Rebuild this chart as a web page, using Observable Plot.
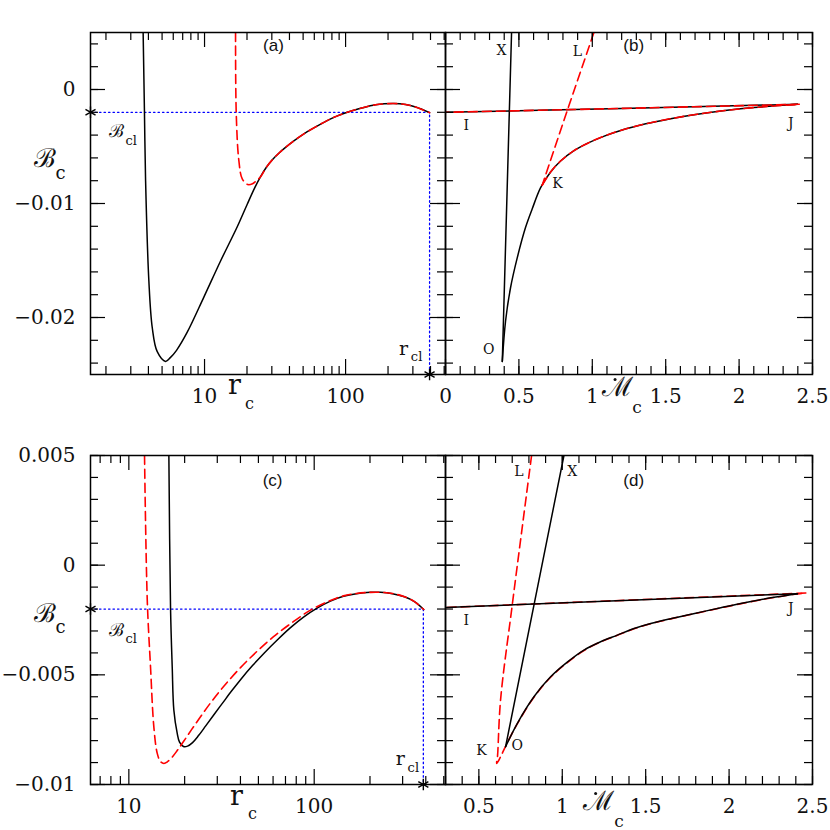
<!DOCTYPE html>
<html><head><meta charset="utf-8">
<script src="https://cdn.jsdelivr.net/npm/d3@7"></script>
<script src="https://cdn.jsdelivr.net/npm/@observablehq/plot@0.6"></script>
<style>
body{margin:0;background:#fff;}
#wrap{position:relative;width:830px;height:830px;background:#fff;overflow:hidden}
#wrap > div{position:absolute}
</style></head><body><div id="wrap"></div>
<script>
// ---------------- DATA ----------------
// Panel (a): B_c vs r_c (log)
const aDomainR = [1.554, 511];
const aDomainB = [-0.025, 0.005];
const aBlackR = [3.67, 3.75, 3.82, 4.03, 4.26, 4.62, 5.29, 5.74, 6.33, 7.54, 9.89, 12.99, 17.06, 20.08, 22.63, 24.96, 27.53, 30.37, 33.77, 37.54, 42.99, 50.62, 59.61, 70.19, 82.6, 102.8, 127.8, 163.2, 220.1, 266.4, 313.7, 394.2];
const aBlackB = [0.005, -0.002, -0.008, -0.0168, -0.0209, -0.0230, -0.02385, -0.0235, -0.02288, -0.02129, -0.01821, -0.01504, -0.01204, -0.01006, -0.00865, -0.00764, -0.0068, -0.00614, -0.00557, -0.00508, -0.00451, -0.00389, -0.00337, -0.00288, -0.00244, -0.002, -0.00165, -0.00134, -0.00123, -0.00132, -0.00154, -0.00203];
const aRedR = [16.59, 16.78, 17.51, 18.51, 20.28, 21.9, 23.37, 24.96, 27.53, 30.37, 33.77, 37.54, 42.99, 50.62, 59.61, 70.19, 82.6, 102.8, 127.8, 163.2, 220.1, 266.4, 313.7, 394.2];
const aRedB = [0.005, -0.00211, -0.00623, -0.00784, -0.00834, -0.00826, -0.00799, -0.00766, -0.0068, -0.00614, -0.00557, -0.00508, -0.00451, -0.00389, -0.00337, -0.00288, -0.00244, -0.002, -0.00165, -0.00134, -0.00123, -0.00132, -0.00154, -0.00203];
const aRcl = 394;
const aBcl = -0.002;

// Panel (b): B_c vs Mdot_c
const bDomainM = [0, 2.5];
const bXoM = [0.45, 0.387];
const bXoB = [0.005, -0.02385];
const bOjM = [0.387, 0.409, 0.443, 0.489, 0.545, 0.591, 0.648, 0.716, 0.784, 0.873, 0.966, 1.077, 1.193, 1.364, 1.534, 1.704, 1.875, 2.102, 2.398];
const bOjB = [-0.02385, -0.02033, -0.01739, -0.01475, -0.01211, -0.01046, -0.00861, -0.00724, -0.00627, -0.00539, -0.00473, -0.00411, -0.00359, -0.00301, -0.00256, -0.00219, -0.00189, -0.00158, -0.0013];
const bJiM = [2.398, 1.2, 0];
const bJiB = [-0.0013, -0.00166, -0.002];
const bRedLkM = [1.011, 0.83, 0.659];
const bRedLkB = [0.005, -0.00182, -0.00839];
const bRedKjM = [0.659, 0.716, 0.784, 0.873, 0.966, 1.077, 1.193, 1.364, 1.534, 1.704, 1.875, 2.102, 2.41];
const bRedKjB = [-0.00839, -0.00724, -0.00627, -0.00539, -0.00473, -0.00411, -0.00359, -0.00301, -0.00256, -0.00219, -0.00189, -0.00158, -0.0013];
const bRedJiM = [2.41, 1.2, 0];
const bRedJiB = [-0.0013, -0.00166, -0.002];

// Panel (c): B_c vs r_c (log)
const cDomainR = [6.21, 511];
const cDomainB = [-0.01, 0.005];
const cBlackR = [16.44, 16.79, 17.14, 17.49, 18.24, 18.77, 19.72, 20.73, 22.06, 23.77, 25.93, 28.63, 32.02, 35.81, 40.04, 46.48, 53.95, 63.4, 74.5, 87.6, 104.2, 122.4, 143.9, 169.1, 201.3, 227.9, 264.5, 307, 347.5, 390];
const cBlackB = [0.005, -0.00202, -0.00464, -0.00661, -0.00767, -0.00807, -0.00827, -0.00825, -0.00809, -0.00777, -0.00734, -0.00684, -0.00629, -0.00574, -0.00522, -0.00458, -0.00399, -0.0034, -0.00285, -0.00237, -0.00195, -0.00164, -0.00142, -0.0013, -0.00124, -0.00124, -0.0013, -0.00144, -0.00166, -0.00202];
const cRedR = [12.15, 12.57, 13.09, 13.64, 14.23, 14.83, 15.45, 16.17, 17.14, 18.31, 19.8, 21.79, 24.36, 27.93, 32.54, 40.04, 49.27, 60.34, 74.5, 95.5, 122.4, 143.9, 169.1, 201.3, 227.9, 264.5, 307, 347.5, 390];
const cRedB = [0.005, -0.0016, -0.00464, -0.00737, -0.00858, -0.00896, -0.00904, -0.00896, -0.00875, -0.00843, -0.00802, -0.0075, -0.00691, -0.00622, -0.00552, -0.00467, -0.00392, -0.00326, -0.00267, -0.00205, -0.00161, -0.0014, -0.00129, -0.00124, -0.00124, -0.00129, -0.00144, -0.00166, -0.00202];
const cRcl = 388;
const cBcl = -0.002;

// Panel (d): B_c vs Mdot_c
const dDomainM = [0.3, 2.5];
const dXoM = [1.01, 0.66];
const dXoB = [0.005, -0.00828];
const dOjM = [0.66, 0.73, 0.83, 0.93, 1.03, 1.13, 1.23, 1.33, 1.43, 1.53, 1.65, 1.80, 1.95, 2.10, 2.25, 2.41];
const dOjB = [-0.00828, -0.00722, -0.006, -0.00509, -0.00442, -0.00387, -0.00349, -0.00319, -0.00289, -0.00266, -0.00244, -0.00219, -0.00194, -0.0017, -0.00149, -0.0013];
const dJiM = [2.41, 0.3];
const dJiB = [-0.0013, -0.00193];
const dRedM = [0.816, 0.70, 0.63, 0.612, 0.607, 0.63, 0.66, 0.73, 0.83, 0.93, 1.03, 1.13, 1.23, 1.33, 1.43, 1.53, 1.65, 1.80, 1.95, 2.10, 2.25, 2.41, 2.46];
const dRedB = [0.005, -0.00182, -0.00615, -0.0087, -0.00904, -0.00874, -0.00826, -0.00724, -0.00602, -0.00511, -0.00444, -0.00389, -0.0035, -0.0032, -0.0029, -0.00267, -0.00245, -0.0022, -0.00195, -0.00171, -0.0015, -0.00131, -0.00127];
const dRedJiM = [2.46, 0.3];
const dRedJiB = [-0.00127, -0.00193];

// Tick values and labels
const logMajor = [10, 100];
const logMajorLabels = ["10", "100"];
const aYMajor = [-0.02, -0.01, 0];
const aYLabels = ["\u22120.02", "\u22120.01", "0"];
const cYMajor = [-0.01, -0.005, 0, 0.005];
const cYLabels = ["\u22120.01", "\u22120.005", "0", "0.005"];
const bXMajor = [0, 0.5, 1, 1.5, 2, 2.5];
const bXLabels = ["0", "0.5", "1", "1.5", "2", "2.5"];
const dXMajor = [0.5, 1, 1.5, 2, 2.5];
const dXLabels = ["0.5", "1", "1.5", "2", "2.5"];

// ---------------- DRAWING ----------------
const FONT = "DejaVu Serif";
const SANS = "Liberation Sans";
const wrap = document.getElementById("wrap");
const pts = (xs, ys) => xs.map((x, i) => ({x, y: ys[i]}));
const logMinor = [];
[1, 10, 100].forEach(dec => { for (let k = 2; k <= 9; k++) logMinor.push(k * dec); });
const linMinor = (a, b, s) => d3.range(Math.round(a / s), Math.round(b / s) + 1).map(i => +(i * s).toFixed(6));

const BLACK = {stroke: "black", strokeWidth: 1.5, clip: true};
const RED = {stroke: "#ff0000", strokeWidth: 1.6, strokeDasharray: "9,5", clip: true};
const BLUE = {stroke: "#0000ff", strokeWidth: 1.3, strokeDasharray: "1.5,3"};

function T(x, y, s, o = {}) {
  return Plot.text([0], {x: () => x, y: () => y, text: () => s, fontFamily: FONT, fontSize: 14, fill: "#111", ...o});
}
function TL(y, s, dx, o = {}) {
  return Plot.text([0], {y: () => y, text: () => s, frameAnchor: "left", dx, fontFamily: FONT, fill: "#111", ...o});
}
function TB(x, s, dy, o = {}) {
  return Plot.text([0], {x: () => x, text: () => s, frameAnchor: "bottom", dy, fontFamily: FONT, fill: "#111", ...o});
}
function DOT(x, dy) {
  return Plot.dot([0], {x: () => x, frameAnchor: "bottom", dy, r: 1.5, fill: "#111", stroke: "none"});
}

function panel(p) {
  const fw = p.width - p.ml - p.mr, fh = p.height - p.mt - p.mb;
  const lo = Math.min(...p.xDomain), hi = Math.max(...p.xDomain);
  const ylo = Math.min(...p.yDomain), yhi = Math.max(...p.yDomain);
  const inX = v => v >= lo - 1e-9 && v <= hi + 1e-9;
  const inY = v => v >= ylo - 1e-9 && v <= yhi + 1e-9;
  const xMin = p.xMinor.filter(inX), yMin = p.yMinor.filter(inY);
  const st = {stroke: "black", strokeWidth: 1.2};
  const LM = 15, LS = 8;
  const ticks = [
    Plot.tickX(p.xMajor, {x: d => d, insetTop: fh - LM, ...st}),
    Plot.tickX(p.xMajor, {x: d => d, insetBottom: fh - LM, ...st}),
    Plot.tickX(xMin, {x: d => d, insetTop: fh - LS, ...st}),
    Plot.tickX(xMin, {x: d => d, insetBottom: fh - LS, ...st}),
    Plot.tickY(p.yMajor, {y: d => d, insetRight: fw - LM, ...st}),
    Plot.tickY(p.yMajor, {y: d => d, insetLeft: fw - LM, ...st}),
    Plot.tickY(yMin, {y: d => d, insetRight: fw - LS, ...st}),
    Plot.tickY(yMin, {y: d => d, insetLeft: fw - LS, ...st})
  ];
  const labels = [
    Plot.text(p.xMajor, {x: d => d, text: (d, i) => p.xLabels[i], frameAnchor: "bottom", dy: 14, lineAnchor: "top", fontSize: 20, fontFamily: FONT, fill: "#111"})
  ];
  if (p.yLabels) labels.push(Plot.text(p.yMajor, {y: d => d, text: (d, i) => p.yLabels[i], frameAnchor: "left", dx: -15, textAnchor: "end", fontSize: 20, fontFamily: FONT, fill: "#111"}));
  const svg = Plot.plot({
    width: p.width, height: p.height,
    marginLeft: p.ml, marginRight: p.mr, marginTop: p.mt, marginBottom: p.mb,
    x: {type: p.xType, domain: p.xDomain, axis: null},
    y: {type: "linear", domain: p.yDomain, axis: null},
    style: {background: "transparent", overflow: "visible", fontFamily: FONT, color: "black"},
    marks: [...p.marks, ...ticks, Plot.frame({stroke: "black", strokeWidth: 1.5}), ...labels, ...p.texts]
  });
  const div = document.createElement("div");
  div.style.left = p.left + "px";
  div.style.top = p.top + "px";
  div.appendChild(svg);
  wrap.appendChild(div);
}

// Panel (a)
panel({
  left: 0, top: 0, width: 455, height: 412, ml: 90, mr: 10, mt: 32, mb: 38,
  xType: "log", xDomain: aDomainR, yDomain: aDomainB,
  xMajor: logMajor, xLabels: logMajorLabels, xMinor: logMinor,
  yMajor: aYMajor, yLabels: aYLabels, yMinor: linMinor(-0.024, 0.004, 0.002),
  marks: [
    Plot.line(pts([aDomainR[0], aRcl, aRcl], [aBcl, aBcl, aDomainB[0]]), {x: "x", y: "y", ...BLUE}),
    Plot.line(pts(aBlackR, aBlackB), {x: "x", y: "y", curve: "catmull-rom", ...BLACK}),
    Plot.line(pts(aRedR, aRedB), {x: "x", y: "y", curve: "catmull-rom", ...RED}),
    Plot.dot(pts([aDomainR[0], aRcl], [aBcl, aDomainB[0]]), {x: "x", y: "y", symbol: "asterisk", r: 5.5, stroke: "black", strokeWidth: 1.4})
  ],
  texts: [
    T(30.8, 0.00382, "(a)", {fontFamily: SANS, fontSize: 17}),
    TL(-0.00605, "\u212C", -57, {fontSize: 26}),
    TL(-0.00735, "c", -35, {fontSize: 18}),
    TL(-0.00368, "\u212C", 18, {fontSize: 18}),
    TL(-0.00452, "cl", 35, {fontSize: 13}),
    T(aRcl, -0.02279, "r", {fontSize: 19, dx: -26}),
    T(aRcl, -0.02345, "cl", {fontSize: 13, dx: -13}),
    TB(16.3, "r", 19.5, {fontSize: 27}),
    TB(20.8, "c", 34, {fontSize: 16})
  ]
});

// Panel (b)
panel({
  left: 435, top: 0, width: 395, height: 412, ml: 10, mr: 18, mt: 32, mb: 38,
  xType: "linear", xDomain: bDomainM, yDomain: aDomainB,
  xMajor: bXMajor, xLabels: bXLabels, xMinor: linMinor(0, 2.5, 0.1),
  yMajor: aYMajor, yLabels: null, yMinor: linMinor(-0.024, 0.004, 0.002),
  marks: [
    Plot.line(pts(bXoM, bXoB), {x: "x", y: "y", ...BLACK}),
    Plot.line(pts(bOjM, bOjB), {x: "x", y: "y", curve: "catmull-rom", ...BLACK}),
    Plot.line(pts(bJiM, bJiB), {x: "x", y: "y", curve: "catmull-rom", ...BLACK}),
    Plot.line(pts(bRedLkM, bRedLkB), {x: "x", y: "y", ...RED}),
    Plot.line(pts(bRedKjM, bRedKjB), {x: "x", y: "y", curve: "catmull-rom", ...RED}),
    Plot.line(pts(bRedJiM, bRedJiB), {x: "x", y: "y", curve: "catmull-rom", ...RED})
  ],
  texts: [
    T(1.282, 0.00382, "(b)", {fontFamily: SANS, fontSize: 17}),
    T(0.382, 0.00346, "X"), T(0.898, 0.00331, "L"), T(0.141, -0.00315, "I"),
    T(2.352, -0.00294, "J"), T(0.762, -0.00828, "K"), T(0.295, -0.02282, "O"),
    TB(1.17, "\u2133", 21, {fontSize: 27}),
    DOT(1.155, 5),
    TB(1.305, "c", 38, {fontSize: 17})
  ]
});

// Panel (c)
panel({
  left: 0, top: 412, width: 455, height: 418, ml: 90, mr: 10, mt: 43, mb: 46,
  xType: "log", xDomain: cDomainR, yDomain: cDomainB,
  xMajor: logMajor, xLabels: logMajorLabels, xMinor: logMinor,
  yMajor: cYMajor, yLabels: cYLabels, yMinor: linMinor(-0.01, 0.005, 0.001),
  marks: [
    Plot.line(pts([cDomainR[0], cRcl, cRcl], [cBcl, cBcl, cDomainB[0]]), {x: "x", y: "y", ...BLUE}),
    Plot.line(pts(cBlackR, cBlackB), {x: "x", y: "y", curve: "catmull-rom", ...BLACK}),
    Plot.line(pts(cRedR, cRedB), {x: "x", y: "y", curve: "catmull-rom", ...RED}),
    Plot.dot(pts([cDomainR[0], cRcl], [cBcl, cDomainB[0]]), {x: "x", y: "y", symbol: "asterisk", r: 5.5, stroke: "black", strokeWidth: 1.4})
  ],
  texts: [
    T(59.6, 0.00387, "(c)", {fontFamily: SANS, fontSize: 17}),
    TL(-0.00219, "\u212C", -57, {fontSize: 26}),
    TL(-0.00284, "c", -35, {fontSize: 18}),
    TL(-0.00296, "\u212C", 18, {fontSize: 18}),
    TL(-0.00335, "cl", 35, {fontSize: 13}),
    T(cRcl, -0.00884, "r", {fontSize: 19, dx: -23}),
    T(cRcl, -0.00924, "cl", {fontSize: 13, dx: -10}),
    TB(38.1, "r", 20.5, {fontSize: 27}),
    TB(46.5, "c", 34, {fontSize: 16})
  ]
});

// Panel (d)
panel({
  left: 435, top: 412, width: 395, height: 418, ml: 10, mr: 18, mt: 43, mb: 46,
  xType: "linear", xDomain: dDomainM, yDomain: cDomainB,
  xMajor: dXMajor, xLabels: dXLabels, xMinor: linMinor(0.3, 2.5, 0.1),
  yMajor: cYMajor, yLabels: null, yMinor: linMinor(-0.01, 0.005, 0.001),
  marks: [
    Plot.line(pts(dRedM, dRedB), {x: "x", y: "y", curve: "catmull-rom", ...RED}),
    Plot.line(pts(dRedJiM, dRedJiB), {x: "x", y: "y", ...RED}),
    Plot.line(pts(dXoM, dXoB), {x: "x", y: "y", ...BLACK}),
    Plot.line(pts(dOjM, dOjB), {x: "x", y: "y", curve: "catmull-rom", ...BLACK}),
    Plot.line(pts(dJiM, dJiB), {x: "x", y: "y", ...BLACK})
  ],
  texts: [
    T(1.428, 0.00387, "(d)", {fontFamily: SANS, fontSize: 17}),
    T(0.74, 0.00425, "L"), T(1.06, 0.00425, "X"), T(0.424, -0.00254, "I"),
    T(2.37, -0.00197, "J"), T(0.516, -0.00843, "K"), T(0.73, -0.0082, "O"),
    TB(1.215, "\u2133", 25, {fontSize: 27}),
    DOT(1.2, 9),
    TB(1.34, "c", 42, {fontSize: 17})
  ]
});
</script></body></html>
